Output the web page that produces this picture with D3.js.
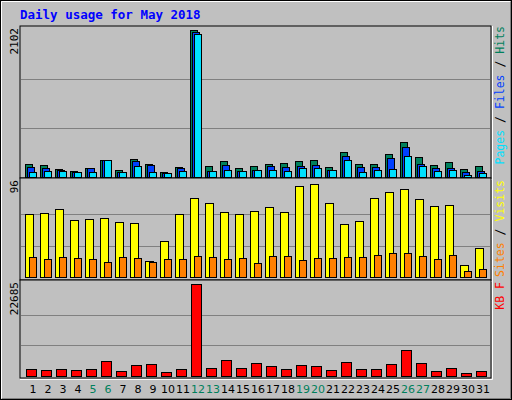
<!DOCTYPE html><html><head><meta charset="utf-8">
<script src="https://cdn.jsdelivr.net/npm/d3@7"></script>
<style>body{margin:0;background:#fff}svg{display:block}</style></head><body>
<svg id="c" width="512" height="400"></svg>
<script>
const days = d3.range(1,32);
const weekendDays = [5,6,12,13,19,20,26,27];
const hits  = [191,167,119,91,134,248,105,262,181,76,148,2102,162,234,134,162,191,205,234,248,148,362,191,191,334,505,291,176,219,119,162];
const files = [148,134,105,76,134,248,76,234,176,62,124,2070,91,176,91,105,162,148,162,176,105,305,148,148,276,434,191,134,134,76,91];
const pages = [76,91,91,76,76,248,76,162,76,62,91,2040,91,105,91,105,105,91,134,134,105,248,76,105,119,305,162,91,105,33,62];
const visits= [64,65,69,58,59,60,56,55,16,37,64,81,76,66,64,67,71,66,93,95,76,54,57,81,87,90,80,73,74,12,30];
const sites = [20,18,20,19,18,15,20,19,15,18,18,21,20,18,19,14,21,21,17,19,19,20,20,22,25,25,21,18,22,6.5,8.5];
const kbytes= [1815,1570,1815,1570,1815,3795,1320,2805,3050,1070,1815,22685,2060,4040,2060,3300,2560,1815,2805,2560,1570,3550,1815,1815,3050,6520,3300,1320,2060,825,1320];
const maxHits=2102, maxVisits=96, maxKB=22685;

const svg=d3.select("#c");
svg.append("rect").attr("width",512).attr("height",400).attr("fill","#c0c0c0");
svg.append("rect").attr("x",0.5).attr("y",0.5).attr("width",511).attr("height",399).attr("fill","none").attr("stroke","#000");
svg.append("path").attr("d","M1.5,398.5V1.5H510.5").attr("fill","none").attr("stroke","#fff");
svg.append("path").attr("d","M2,398.5H510.5V1.5").attr("fill","none").attr("stroke","#808080");
svg.append("text").attr("x",20).attr("y",19).text("Daily usage for May 2018")
  .attr("font-family","DejaVu Sans Mono").attr("font-weight","bold").attr("font-size",12.5).attr("fill","#0000ff");

const x=d3.scaleLinear().domain([1,31]).range([25,475]);
const L=20,R=491;
const panels=[{t:26,b:178},{t:178,b:280},{t:280,b:378}];
panels.forEach(p=>{
  svg.append("rect").attr("x",L).attr("y",p.t).attr("width",R-L).attr("height",p.b-p.t).attr("fill","#c0c0c0").attr("stroke","#000");
  svg.append("path").attr("d",`M${R+1.5},${p.t}V${p.b+1.5}H${L}`).attr("fill","none").attr("stroke","#fff");
});
const yH=d3.scaleLinear().domain([0,maxHits]).range([177,30]);
const yV=d3.scaleLinear().domain([0,maxVisits]).range([277,183]);
const yK=d3.scaleLinear().domain([0,maxKB]).range([376,284]);
function grid(y,top,base){[1,2].forEach(k=>{const yy=Math.round(base-(base-top)*k/3)+0.5;
  svg.append("line").attr("x1",L+1).attr("x2",R-1).attr("y1",yy).attr("y2",yy).attr("stroke","#808080");});}
grid(yH,30,177);grid(yV,183,277);grid(yK,284,376);

function bars(data,y,off,w,color){
  svg.append("g").selectAll("rect").data(data).join("rect")
   .attr("x",(d,i)=>x(days[i])+off+0.5).attr("width",w)
   .attr("y",d=>Math.round(y(d))+0.5).attr("height",(d)=>Math.max(0,Math.round(y(0))-Math.round(y(d))))
   .attr("fill",color).attr("stroke","#000");
}
bars(hits,yH,0,7,"#00805c");
bars(files,yH,2,7,"#0040ff");
bars(pages,yH,4,7,"#00e0ff");
bars(visits,yV,0,8,"#ffff00");
bars(sites,yV,4,7,"#ff8000");
bars(kbytes,yK,1,10,"#ff0000");

svg.append("g").selectAll("text").data(days).join("text")
  .attr("x",d=>x(d)+8).attr("y",393).attr("text-anchor","middle")
  .attr("font-family","DejaVu Sans").attr("font-size",11)
  .attr("fill",d=>weekendDays.includes(d)?"#00805c":"#000").text(d=>d);

function vlab(txt,xx,yy,anchor){svg.append("text").attr("transform",`translate(${xx},${yy}) rotate(-90)`)
  .attr("text-anchor",anchor).attr("font-family","DejaVu Sans Mono").attr("font-size",11).text(txt);}
vlab(maxHits,18,28,"end");vlab(maxVisits,18,180,"end");vlab(maxKB,18,282,"end");

function legend(parts,xx,yy){const t=svg.append("text").attr("transform",`translate(${xx},${yy}) rotate(-90)`)
  .attr("text-anchor","end").attr("font-family","DejaVu Sans Mono").attr("font-size",11.5);
  parts.forEach(([s,c])=>t.append("tspan").attr("fill",c).text(s));}
legend([["Pages","#00e0ff"],[" / ","#000"],["Files","#0040ff"],[" / ","#000"],["Hits","#00805c"]],504,26);
legend([["Sites","#ff8000"],[" / ","#000"],["Visits","#ffff00"]],504,180);
legend([["KB F","#ff0000"]],504,282);
</script></body></html>
